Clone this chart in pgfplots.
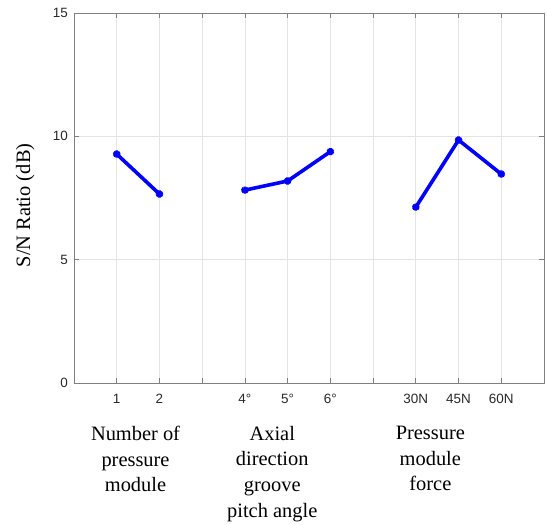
\documentclass[border=0pt]{standalone}
\usepackage{pgfplots}
\pgfplotsset{compat=1.18}
\usepackage{fontspec}
\setmainfont{Liberation Serif}
\newfontfamily\arialfont{Liberation Sans}
\definecolor{axgray}{RGB}{128,128,128}
\definecolor{gridgray}{RGB}{228,228,228}
\definecolor{lblgray}{RGB}{40,40,40}
\tikzset{snline/.style={blue, line width=3.6bp, mark=asterisk, mark size=3.6bp, mark options={solid, line width=2.8bp}}}
\begin{document}
\begin{tikzpicture}
\path[use as bounding box] (-74bp,-142bp) rectangle (473bp,383bp);
\begin{axis}[
  at={(0,0)}, anchor=south west,
  scale only axis, width=470bp, height=370bp,
  xmin=0, xmax=11, ymin=0, ymax=15,
  xtick={1,2,3,4,5,6,7,8,9,10},
  xticklabels={1,2,,4°,5°,6°,,30N,45N,60N},
  ytick={0,5,10,15},
  tick align=inside, xtick pos=both, ytick pos=both,
  major tick length=5bp,
  grid=major,
  grid style={gridgray, line width=0.8bp},
  axis line style={axgray, line width=0.9bp},
  tick style={axgray, line width=0.8bp},
  /pgf/number format/assume math mode=true,
  ticklabel style={font=\arialfont\fontsize{13.5}{16}\selectfont, text=lblgray},
  xticklabel style={inner sep=0pt, yshift=-11bp},
  yticklabel style={inner sep=0pt, xshift=-6bp},
  ylabel={S/N Ratio (dB)},
  ylabel style={at={(axis description cs:-0.104,0.48)}, anchor=center, font=\fontsize{20.5}{24}\selectfont},
  clip=false,
]
\addplot[snline] coordinates {(1,9.28) (2,7.66)};
\addplot[snline] coordinates {(4,7.82) (5,8.19) (6,9.38)};
\addplot[snline] coordinates {(8,7.13) (9,9.85) (10,8.47)};
\node[anchor=north, align=center, font=\fontsize{20.5}{25.7}\selectfont, inner sep=0pt] at (axis cs:1.44,0) [yshift=-43bp] {Number of\\pressure\\module};
\node[anchor=north, align=center, font=\fontsize{20.5}{25.7}\selectfont, inner sep=0pt] at (axis cs:4.64,0) [yshift=-43bp] {Axial\\direction\\groove\\pitch angle};
\node[anchor=north, align=center, font=\fontsize{20.5}{25.7}\selectfont, inner sep=0pt] at (axis cs:8.34,0) [yshift=-43bp] {Pressure\\module\\force};
\end{axis}
\end{tikzpicture}
\end{document}
